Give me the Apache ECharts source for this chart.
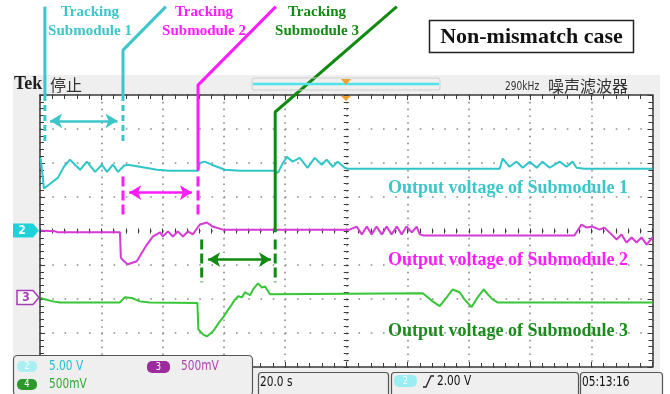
<!DOCTYPE html>
<html>
<head>
<meta charset="utf-8">
<script src="https://cdn.jsdelivr.net/npm/echarts@6/dist/echarts.min.js"></script>
<style>
  html, body { margin: 0; padding: 0; background: #ffffff; }
  #chart { width: 670px; height: 394px; }
</style>
</head>
<body>
<div id="chart"></div>
<script>
// Horizontal: 10 divisions x 20.0 s/div. Vertical: screen divisions from centre (8 div).
const timeRange = [0, 200];
const timePerDiv = 20;
const divRange = [-4, 4];

// Output voltage traces as [time (s), screen divisions]
const submodule1Trace = [
  [0.2, 2.15], [1.3, 1.25], [3.3, 1.39], [5.9, 1.57], [7.8, 1.89], [9.8, 2.10], [11.4, 1.95],
  [13.1, 1.80], [15.3, 2.04], [18.0, 1.74], [20.2, 1.95], [21.9, 1.74], [23.8, 1.95], [25.5, 1.74],
  [27.4, 1.92], [28.7, 1.95], [32.6, 1.89], [38.2, 1.80], [42.4, 1.77], [51.6, 1.77], [52.2, 2.00],
  [53.8, 2.04], [56.1, 1.95], [60.4, 1.80], [65.3, 1.77], [76.7, 1.77], [77.7, 1.71], [79.0, 1.95],
  [80.6, 2.18], [82.5, 2.04], [84.8, 2.15], [87.4, 1.86], [89.7, 2.15], [92.0, 1.95], [93.6, 2.10],
  [95.6, 1.89], [97.2, 2.04], [99.5, 1.86], [100.5, 1.83], [150.1, 1.83], [151.1, 2.13], [153.3, 1.89],
  [155.6, 2.04], [157.6, 1.86], [159.9, 2.04], [162.2, 1.86], [164.1, 2.04], [166.4, 1.86], [169.7, 2.04],
  [171.9, 1.89], [173.9, 2.04], [175.2, 1.86], [177.8, 1.83], [200, 1.83]
];
const submodule2Trace = [
  [0.3, 0.01], [1.6, 0.01], [4.9, -0.01], [5.9, -0.04], [26.1, -0.04], [26.4, -0.78], [27.4, -0.89],
  [28.7, -0.98], [31.6, -0.89], [34.9, -0.40], [36.9, -0.16], [39.2, -0.04], [40.1, -0.16], [41.8, -0.01],
  [43.4, -0.16], [45.0, -0.01], [46.7, -0.16], [48.3, -0.01], [49.9, -0.10], [52.2, 0.19], [54.5, 0.25],
  [56.4, 0.13], [59.7, 0.04], [101.1, 0.04], [103.4, 0.13], [105.1, -0.10], [106.7, 0.13], [108.3, -0.10],
  [109.9, 0.13], [111.6, -0.10], [113.2, 0.13], [114.8, -0.10], [116.5, 0.13], [118.1, -0.10], [119.7, 0.13],
  [121.4, -0.04], [123.0, 0.13], [124.0, -0.10], [125.3, -0.13], [174.5, -0.13], [176.8, 0.19], [178.5, 0.10],
  [180.4, 0.13], [182.7, 0.04], [184.3, 0.10], [186.6, -0.10], [188.3, -0.25], [189.9, -0.10], [191.5, -0.34],
  [193.2, -0.19], [194.8, -0.34], [196.4, -0.19], [198.1, -0.40], [200, -0.19]
];
const submodule3Trace = [
  [0.3, -1.97], [1.6, -2.01], [4.2, -2.07], [6.5, -2.10], [26.1, -2.10], [27.7, -1.95], [30.0, -1.97],
  [32.6, -2.07], [35.9, -2.10], [51.4, -2.12], [51.7, -2.89], [53.2, -3.04], [54.5, -3.10], [56.5, -2.95],
  [58.8, -2.65], [59.8, -2.54], [61.1, -2.36], [62.7, -2.15], [63.7, -2.01], [64.7, -1.92], [66.0, -1.95],
  [66.9, -1.80], [68.6, -1.89], [69.6, -1.71], [71.2, -1.54], [72.5, -1.66], [73.5, -1.63], [75.1, -1.86],
  [125.0, -1.83], [126.6, -1.95], [128.2, -2.07], [130.5, -2.21], [132.8, -1.95], [134.7, -1.72],
  [137.0, -1.80], [138.6, -2.01], [140.9, -2.24], [142.9, -1.95], [144.9, -1.72], [146.2, -1.86],
  [147.8, -2.01], [149.4, -2.10], [200, -2.10]
];

// Tracking annotations: callout leaders, window boundaries and window spans
const track1Leader = [[1.6, 6.6], [1.6, 4.0]];
const track1Bounds = [[[1.6, 4.0], [1.6, 2.6]], [[27.1, 4.0], [27.1, 2.53]]];
const track1Leader2 = [[41.1, 6.6], [27.1, 5.32], [27.1, 4.0]];
const track1Span = [[3.3, 3.24], [25.3, 3.24]];

const track2Leader = [[77.0, 6.6], [51.6, 4.29], [51.6, 1.77]];
const track2Bounds = [[[27.1, 1.60], [27.1, 0.48]], [[51.6, 1.60], [51.6, 0.48]]];
const track2Span = [[29.1, 1.13], [49.6, 1.13]];

const track3Leader = [[116.5, 6.6], [76.8, 3.50], [76.8, -0.04]];
const track3Bounds = [[[52.8, -0.25], [52.8, -1.51]], [[76.8, -0.25], [76.8, -1.51]]];
const track3Span = [[54.9, -0.84], [75.4, -0.84]];

const cyan = '#2fc6c9', magenta = '#d53ad5', green = '#36c636';
const cyanNote = '#3cc6ca', magentaNote = '#ff1cff', greenNote = '#118a11';
const ink = '#3a3a3a';
const serif = '"Liberation Serif", "Times New Roman", serif';
const scopeFont = '"Liberation Sans Narrow", "DejaVu Sans Condensed", "Liberation Sans", sans-serif';
const cjk = '"Noto Sans CJK SC", sans-serif';

function scopeX(position, opts) {
  return Object.assign({
    type: 'value', min: timeRange[0], max: timeRange[1], interval: timePerDiv, position,
    axisLine: { show: true, onZero: false, lineStyle: { color: ink, width: 1.5 } },
    axisTick: { show: true, inside: true, length: 5, lineStyle: { color: ink, width: 1 } },
    minorTick: { show: true, splitNumber: 5, length: 4, lineStyle: { color: ink, width: 1 } },
    axisLabel: { show: false },
    splitLine: { show: false },
    minorSplitLine: { show: false }
  }, opts || {});
}
function scopeY(position, opts) {
  return Object.assign({
    type: 'value', min: divRange[0], max: divRange[1], interval: 1, position,
    axisLine: { show: true, onZero: false, lineStyle: { color: ink, width: 1.5 } },
    axisTick: { show: true, inside: true, length: 5, lineStyle: { color: ink, width: 1 } },
    minorTick: { show: true, splitNumber: 5, length: 4, lineStyle: { color: ink, width: 1 } },
    axisLabel: { show: false },
    splitLine: { show: false },
    minorSplitLine: { show: false }
  }, opts || {});
}
const centreTick = (inside) => ({
  axisLine: { show: false, onZero: false },
  axisTick: { show: true, inside, length: 2.5, lineStyle: { color: ink, width: 1 } },
  minorTick: { show: true, splitNumber: 5, length: 2.5, lineStyle: { color: ink, width: 1 } }
});

function trace(data, color, z) {
  return { type: 'line', data, symbol: 'none', clip: false, silent: true, animation: false, z,
    lineStyle: { color, width: 2 } };
}
function leader(data, color, dash, width, z) {
  return { type: 'line', data, symbol: 'none', clip: false, silent: true, animation: false, z,
    lineStyle: { color, width: width || 3, type: dash || 'solid', cap: 'butt' } };
}
function span(pts, color) {
  return { type: 'line', data: [], symbol: 'none', silent: true, animation: false, z: 8,
    markLine: {
      silent: true, animation: false, symbol: ['arrow', 'arrow'], symbolSize: [11, 12],
      label: { show: false },
      lineStyle: { color, width: 2.5, type: 'solid' },
      data: [[{ coord: pts[0] }, { coord: pts[1] }]]
    } };
}

const series = [
  trace(submodule1Trace, cyan, 5),
  trace(submodule2Trace, magenta, 5),
  trace(submodule3Trace, green, 5),
  leader(track1Leader, cyanNote, null, 3, 9),
  leader(track1Leader2, cyanNote, null, 3, 9),
  ...track1Bounds.map(d => leader(d, cyanNote, [6, 4], 3, 9)),
  span(track1Span, cyanNote),
  leader(track2Leader, magentaNote, null, 3, 9),
  ...track2Bounds.map(d => leader(d, magentaNote, [10, 4], 3, 9)),
  span(track2Span, magentaNote),
  leader(track3Leader, greenNote, null, 3, 9),
  ...track3Bounds.map(d => leader(d, greenNote, [10, 4], 3, 9)),
  span(track3Span, greenNote)
];

function txt(text, x, y, font, fill, align, z, sx) {
  return { type: 'text', z: z || 20, silent: true, x, y, scaleX: sx || 1,
    style: { text, x: 0, y: 0, font, fill, textAlign: align || 'left', align: align || 'left',
      textVerticalAlign: 'middle', verticalAlign: 'middle' } };
}
// condensed instrument readout text
function readout(text, x, y, fill, size, align, z) {
  return txt(text, x, y, (size || 14) + 'px ' + scopeFont, fill, align, z || 32, 0.84);
}
function box(x, y, w, h, fill, stroke, r, z, lw) {
  return { type: 'rect', z: z || 20, silent: true, shape: { x, y, width: w, height: h, r: r || 0 },
    style: { fill, stroke: stroke || null, lineWidth: lw || 1 } };
}

const graphics = [
  // instrument bezel and white graticule area
  box(13, 75, 647, 319, '#efefef', null, 0, -3),
  box(40, 95, 612.5, 272, '#ffffff', null, 0, -2),
  // header
  txt('Tek', 14, 84, 'bold 18px ' + serif, '#1e1e1e'),
  txt('停止', 50, 85, '16px ' + cjk, '#333333'),
  box(252, 78, 188, 12, 'rgba(0,0,0,0)', '#cfcfcf', 2, 20),
  { type: 'line', z: 21, silent: true, shape: { x1: 253, y1: 84, x2: 439, y2: 84 },
    style: { stroke: '#4fe3ea', lineWidth: 2.5 } },
  { type: 'polygon', z: 22, silent: true, shape: { points: [[341, 79], [351, 79], [346, 85]] },
    style: { fill: '#f0a02c' } },
  { type: 'polygon', z: 22, silent: true, shape: { points: [[341, 96], [351, 96], [346, 101]] },
    style: { fill: '#f0a02c' } },
  readout('290kHz', 505, 87, '#333333', 12, 'left', 20),
  txt('噪声滤波器', 548, 86, '16px ' + cjk, '#333333'),
  // channel ground markers
  { type: 'polygon', z: 22, silent: true,
    shape: { points: [[13, 223.5], [33, 223.5], [39, 230.5], [33, 237.5], [13, 237.5]] },
    style: { fill: '#1fd2da' } },
  txt('2', 22, 231, 'bold 12px ' + scopeFont, '#ffffff', 'center', 23),
  { type: 'polygon', z: 22, silent: true,
    shape: { points: [[17, 290.5], [33, 290.5], [39, 297.5], [33, 304.5], [17, 304.5]] },
    style: { fill: '#ffffff', stroke: '#a63cb4', lineWidth: 1.5 } },
  txt('3', 26, 297.5, 'bold 12px ' + scopeFont, '#a63cb4', 'center', 23),
  // tracking callouts
  txt('Tracking', 90, 12, 'bold 15px ' + serif, cyanNote, 'center'),
  txt('Submodule 1', 90, 31, 'bold 15px ' + serif, cyanNote, 'center'),
  txt('Tracking', 204, 12, 'bold 15px ' + serif, magentaNote, 'center'),
  txt('Submodule 2', 204, 31, 'bold 15px ' + serif, magentaNote, 'center'),
  txt('Tracking', 317, 12, 'bold 15px ' + serif, greenNote, 'center'),
  txt('Submodule 3', 317, 31, 'bold 15px ' + serif, greenNote, 'center'),
  // case label
  box(429.5, 20.5, 204, 32, '#ffffff', '#222222', 0, 20, 1.5),
  txt('Non-mismatch case', 531.5, 37, 'bold 22px ' + serif, '#111111', 'center', 21),
  // trace labels
  txt('Output voltage of Submodule 1', 508, 188, 'bold 18px ' + serif, cyanNote, 'center'),
  txt('Output voltage of Submodule 2', 508, 260, 'bold 18px ' + serif, magentaNote, 'center'),
  txt('Output voltage of Submodule 3', 508, 331, 'bold 18px ' + serif, '#1b8c1b', 'center'),
  // readout panels
  box(13.5, 355.5, 239, 40, '#efefef', '#555555', 4, 30, 1.2),
  box(17, 361, 20, 11, '#a8eef2', null, 5, 31),
  readout('2', 27, 366.5, '#ffffff', 11, 'center'),
  readout('5.00 V', 49, 366.5, '#22c2d2'),
  box(147, 361, 23, 12, '#9c2c9c', null, 5, 31),
  readout('3', 158.5, 367, '#ffffff', 11, 'center'),
  readout('500mV', 181, 366.5, '#b044b0'),
  box(17, 379, 20, 11, '#2b9a2b', null, 5, 31),
  readout('4', 27, 384.5, '#ffffff', 11, 'center'),
  readout('500mV', 49, 384, '#34a834'),
  box(258.5, 372.5, 130, 24, '#efefef', '#555555', 3, 30, 1.2),
  readout('20.0 s', 260, 382, '#111111'),
  box(391.5, 372.5, 187, 24, '#efefef', '#555555', 3, 30, 1.2),
  box(394, 375, 23, 12, '#9aeef3', null, 5, 31),
  readout('2', 405.5, 381, '#ffffff', 11, 'center'),
  { type: 'polyline', z: 32, silent: true,
    shape: { points: [[423, 387], [426, 387], [431, 376], [434, 376]] },
    style: { stroke: '#222222', lineWidth: 1.3, fill: null } },
  readout('2.00 V', 437, 381, '#111111'),
  box(580.5, 372.5, 82, 24, '#efefef', '#555555', 3, 30, 1.2),
  readout('05:13:16', 582, 382, '#111111')
];

const chart = echarts.init(document.getElementById('chart'), null, { renderer: 'canvas' });
chart.setOption({
  animation: false,
  backgroundColor: '#ffffff',
  grid: { left: 40, top: 95, width: 612.5, height: 272, containLabel: false, outerBoundsMode: 'none', show: false },
  xAxis: [
    scopeX('bottom', { splitLine: { show: true, lineStyle: { color: '#8c8c8c', width: 1.6, type: [1.6, 5.2] } } }),
    scopeX('top'),
    scopeX('bottom', Object.assign({ offset: -136 }, centreTick(true))),
    scopeX('bottom', Object.assign({ offset: -136 }, centreTick(false)))
  ],
  yAxis: [
    scopeY('left', { splitLine: { show: true, lineStyle: { color: '#8c8c8c', width: 1.6, type: [1.6, 10.65] } } }),
    scopeY('right'),
    scopeY('left', Object.assign({ offset: -306.25 }, centreTick(true))),
    scopeY('left', Object.assign({ offset: -306.25 }, centreTick(false)))
  ],
  series: series.map(s => Object.assign(s, { xAxisIndex: 0, yAxisIndex: 0 })),
  graphic: { elements: graphics }
});
</script>
</body>
</html>
